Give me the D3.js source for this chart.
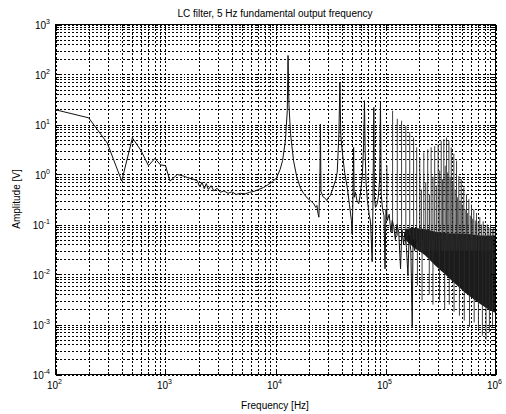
<!DOCTYPE html>
<html>
<head>
<meta charset="utf-8">
<script src="https://cdn.jsdelivr.net/npm/d3@7"></script>
<style>
  html, body { margin: 0; padding: 0; background: #fff; }
  svg { display: block; font-family: "Liberation Sans", Arial, Helvetica, sans-serif; }
</style>
</head>
<body>
<svg id="chart" width="506" height="414"></svg>
<script>
// axis ticks (decades)
const xMajor = [1e2, 1e3, 1e4, 1e5, 1e6]
const yMajor = [1e-4, 1e-3, 1e-2, 1e-1, 1e0, 1e1, 1e2, 1e3]

const traceFreq = [
  100, 200, 295, 400, 500, 600, 700, 800, 900, 1000,
  1100, 1280, 1460, 1600, 1750, 1950, 2050, 2150, 2250, 2350,
  2450, 2600, 2750, 2950, 3150, 3400, 3700, 4000, 4400, 4800,
  5300, 5800, 6400, 7000, 7800, 8600, 9400, 10200, 11000, 11600,
  12300, 12800, 13000, 13250, 13700, 14600, 15600, 16900, 18000, 19400,
  20800, 22300, 23200, 23800, 24300, 24800, 25300, 25600, 25900, 27000,
  28500, 29300, 30000, 31500, 33000, 35000, 36400, 37700, 38500, 39200,
  40400, 42500, 44900, 47000, 49000, 49800, 50600, 51300, 51900, 53300,
  55000, 57100, 59000, 61500, 63300, 64400, 65300, 66500, 68500, 71000,
  73100, 75700, 76800, 78300, 79300, 81100, 83500, 86000, 88500, 90000,
  91500, 94000, 97000, 99000, 101000, 104000, 108000, 112000, 115000, 119000,
  123000, 127000, 132000, 137000, 141000, 146000, 150000, 155000, 160000, 164000,
  170000, 175000, 178000, 184000, 190000
]
const traceAmp = [
  19.7, 13.6, 4.3, 0.74, 5.4, 3.0, 1.5, 2.1, 1.56, 1.5,
  0.74, 1.0, 0.93, 0.86, 0.82, 0.75, 0.56, 0.7, 0.52, 0.66,
  0.5, 0.6, 0.47, 0.53, 0.44, 0.47, 0.42, 0.45, 0.4, 0.42,
  0.41, 0.44, 0.46, 0.5, 0.55, 0.63, 0.72, 0.85, 1.25, 1.9,
  4.7, 19, 240, 25, 6.5, 1.87, 0.9, 0.53, 0.42, 0.34,
  0.3, 0.26, 0.22, 0.24, 0.17, 0.14, 0.6, 10.2, 0.46, 0.36,
  0.33, 0.3, 0.34, 0.38, 0.5, 0.75, 1.1, 6.4, 70, 6,
  3, 1.1, 0.55, 0.25, 0.12, 0.064, 0.35, 3.5, 0.35, 0.44,
  0.3, 0.26, 0.4, 0.9, 4, 30, 3, 0.7, 0.3, 0.16,
  0.114, 0.018, 0.2, 22, 0.35, 0.22, 0.25, 0.35, 0.8, 27.6,
  0.4, 0.2, 0.15, 0.013, 0.2, 0.12, 0.16, 0.07, 0.12, 0.09,
  0.05, 0.1, 0.07, 0.013, 0.08, 0.04, 0.07, 0.035, 0.0095, 0.06,
  0.03, 0.0009, 0.05, 0.03, 0.05
]

// dense noise floor above ~150 kHz: upper / lower edge of the black band
const bandFreq = [150e3, 180e3, 230e3, 285e3, 350e3, 430e3, 530e3, 660e3, 810e3, 1e6]
const bandTop = [0.08, 0.085, 0.08, 0.072, 0.068, 0.066, 0.065, 0.062, 0.06, 0.06]
const bandBottom = [0.05, 0.035, 0.024, 0.015, 0.01, 0.0065, 0.0043, 0.003, 0.0022, 0.0017]

// harmonic spikes / dips in the high band: frequency, low end, high end
const spikeFreq = [
  103000, 116000, 128000, 140000, 153000, 166000, 180000, 192000, 205000, 223000,
  242000, 260000, 280000, 301000, 321000, 339000, 359000, 377000, 396000, 418000,
  442000, 464000, 488000, 515000, 545000, 572000, 605000, 635000, 672000, 720000,
  773000, 841000, 901000, 966000,
  212000, 232000, 251000, 270000, 290000, 311000, 330000, 349000, 368000, 387000,
  407000, 430000, 453000, 476000, 500000, 530000, 558000, 590000, 620000, 655000,
  695000, 745000, 805000, 870000, 935000,
  195000, 215000, 250000, 270000, 310000, 345000, 380000, 420000, 470000, 520000,
  580000, 640000, 700000, 760000, 820000, 880000, 940000
]
const spikeLow = [
  0.12, 0.07, 0.06, 0.05, 0.04, 0.04, 0.035, 0.035, 0.03, 0.03,
  0.03, 0.03, 0.03, 0.03, 0.03, 0.03, 0.03, 0.03, 0.03, 0.03,
  0.03, 0.03, 0.03, 0.03, 0.03, 0.03, 0.03, 0.03, 0.03, 0.03,
  0.03, 0.03, 0.03, 0.03,
  0.03, 0.03, 0.03, 0.03, 0.03, 0.03, 0.03, 0.03, 0.03, 0.03,
  0.03, 0.03, 0.03, 0.03, 0.03, 0.03, 0.03, 0.03, 0.03, 0.03,
  0.03, 0.03, 0.03, 0.03, 0.03,
  0.006, 0.003, 0.004, 0.0025, 0.003, 0.002, 0.0025, 0.0018, 0.0015, 0.0012,
  0.0009, 0.0011, 0.0008, 0.0006, 0.0005, 0.0007, 0.0009
]
const spikeHigh = [
  1.5, 18.8, 13, 11.9, 9.4, 7, 5.5, 3.5, 2.2, 2.75,
  3.2, 3.5, 3.7, 4.0, 4.7, 5.1, 5.5, 4.7, 3.5, 2.6,
  1.9, 0.93, 0.81, 0.55, 0.4, 0.32, 0.25, 0.2, 0.17, 0.14,
  0.116, 0.1, 0.1, 0.087,
  0.5, 0.7, 0.4, 0.9, 0.6, 1.2, 0.8, 1.5, 1.1, 0.9,
  0.7, 0.5, 0.35, 0.3, 0.25, 0.2, 0.17, 0.15, 0.13, 0.12,
  0.11, 0.1, 0.09, 0.085, 0.08,
  0.05, 0.05, 0.05, 0.05, 0.05, 0.05, 0.05, 0.05, 0.05, 0.05,
  0.05, 0.05, 0.05, 0.05, 0.05, 0.05, 0.05
]

const width = 506
const height = 414
const margin = { top: 24, right: 11, bottom: 40, left: 55 }
const plotW = width - margin.left - margin.right
const plotH = height - margin.top - margin.bottom

const svg = d3.select('#chart')

const x = d3.scaleLog().domain([1e2, 1e6]).range([margin.left + 0.5, margin.left + plotW + 0.5])
const y = d3.scaleLog().domain([1e-4, 1e3]).range([margin.top + plotH + 0.5, margin.top + 0.5])

// grid (major + minor, dotted like matlab)
const grid = svg.append('g').attr('id', 'grid')
  .attr('stroke', '#000').attr('stroke-width', 1)
  .attr('stroke-dasharray', '2,2').attr('shape-rendering', 'crispEdges')

grid.selectAll('.gx').data(x.ticks()).join('line')
  .attr('x1', (d) => Math.round(x(d)) + 0.5).attr('x2', (d) => Math.round(x(d)) + 0.5)
  .attr('y1', y.range()[1]).attr('y2', y.range()[0])

grid.selectAll('.gy').data(y.ticks()).join('line')
  .attr('y1', (d) => Math.round(y(d)) + 0.5).attr('y2', (d) => Math.round(y(d)) + 0.5)
  .attr('x1', x.range()[0]).attr('x2', x.range()[1])

// data
svg.append('clipPath').attr('id', 'clip')
  .append('rect').attr('x', margin.left).attr('y', margin.top)
  .attr('width', plotW + 1).attr('height', plotH + 1)

const plot = svg.append('g').attr('clip-path', 'url(#clip)')

const band = bandFreq.map((f, i) => ({ f, top: bandTop[i], bottom: bandBottom[i] }))
plot.append('path')
  .datum(band)
  .attr('fill', '#1b1b1b')
  .attr('d', d3.area().curve(d3.curveMonotoneX).x((d) => x(d.f)).y0((d) => y(d.bottom)).y1((d) => y(d.top)))

const spikes = spikeFreq.map((f, i) => ({ f, lo: spikeLow[i], hi: spikeHigh[i] }))
plot.append('g').attr('stroke', '#2a2a2a').attr('stroke-width', 0.9)
  .selectAll('line').data(spikes).join('line')
  .attr('x1', (d) => x(d.f)).attr('x2', (d) => x(d.f))
  .attr('y1', (d) => y(d.lo)).attr('y2', (d) => y(d.hi))

const trace = traceFreq.map((f, i) => ({ f, a: traceAmp[i] }))
plot.append('path')
  .datum(trace)
  .attr('fill', 'none')
  .attr('stroke', '#111')
  .attr('stroke-width', 1)
  .attr('stroke-linejoin', 'round')
  .attr('d', d3.line().x((d) => x(d.f)).y((d) => y(d.a)))

// ticks inside the box, all four sides
const ticks = svg.append('g').attr('stroke', '#000').attr('shape-rendering', 'crispEdges')
const isMajor = (v) => Math.abs(Math.log10(v) - Math.round(Math.log10(v))) < 1e-9
x.ticks().forEach((v) => {
  const len = isMajor(v) ? 5 : 3
  const px = Math.round(x(v)) + 0.5
  ticks.append('line').attr('x1', px).attr('x2', px).attr('y1', y.range()[0]).attr('y2', y.range()[0] - len)
  ticks.append('line').attr('x1', px).attr('x2', px).attr('y1', y.range()[1]).attr('y2', y.range()[1] + len)
})
y.ticks().forEach((v) => {
  const len = isMajor(v) ? 5 : 3
  const py = Math.round(y(v)) + 0.5
  ticks.append('line').attr('y1', py).attr('y2', py).attr('x1', x.range()[0]).attr('x2', x.range()[0] + len)
  ticks.append('line').attr('y1', py).attr('y2', py).attr('x1', x.range()[1]).attr('x2', x.range()[1] - len)
})

// frame
svg.append('rect')
  .attr('x', x.range()[0]).attr('y', y.range()[1])
  .attr('width', plotW).attr('height', plotH)
  .attr('fill', 'none').attr('stroke', '#000').attr('shape-rendering', 'crispEdges')

// tick labels as 10^n
function powLabel(sel, v) {
  const e = Math.round(Math.log10(v))
  sel.append('tspan').text('10')
  sel.append('tspan').attr('dy', -5).attr('font-size', 7).text(e)
}

svg.append('g').attr('font-size', 10).attr('fill', '#000')
  .selectAll('text').data(xMajor).join('text')
  .attr('x', (d) => x(d) - 1).attr('y', 389)
  .attr('text-anchor', 'middle')
  .each(function (d) { powLabel(d3.select(this), d) })

svg.append('g').attr('font-size', 10).attr('fill', '#000')
  .selectAll('text').data(yMajor).join('text')
  .attr('x', 50).attr('y', (d) => y(d) + 4)
  .attr('text-anchor', 'end')
  .each(function (d) { powLabel(d3.select(this), d) })

// titles
svg.append('text')
  .attr('x', margin.left + plotW / 2).attr('y', 17)
  .attr('text-anchor', 'middle').attr('font-size', 10)
  .text('LC filter, 5 Hz fundamental output frequency')

svg.append('text')
  .attr('x', margin.left + plotW / 2).attr('y', 409)
  .attr('text-anchor', 'middle').attr('font-size', 10)
  .text('Frequency [Hz]')

svg.append('text')
  .attr('transform', `translate(20,${margin.top + plotH / 2}) rotate(-90)`)
  .attr('text-anchor', 'middle').attr('font-size', 10)
  .text('Amplitude [V]')
</script>
</body>
</html>
